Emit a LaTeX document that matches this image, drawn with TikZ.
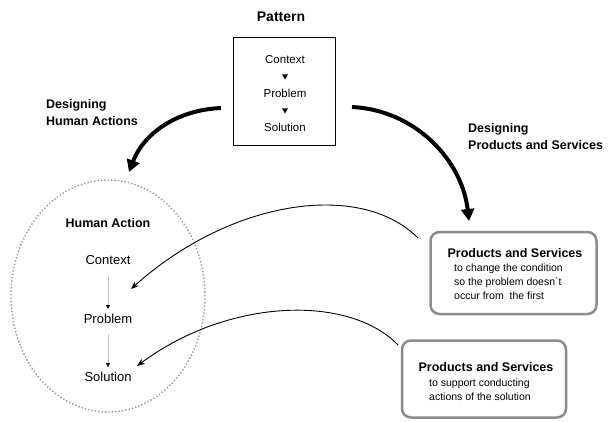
\documentclass[tikz,border=0pt]{standalone}
\usepackage{fontspec}
\setmainfont{Liberation Sans}
\usetikzlibrary{arrows.meta,shapes.geometric}
\begin{document}
\begin{tikzpicture}[x=1pt,y=-1pt,
  bigtitle/.style={font=\bfseries\fontsize{14}{16}\selectfont, inner sep=0pt},
  title/.style={font=\bfseries\fontsize{12.5}{14.5}\selectfont, inner sep=0pt},
  labeltxt/.style={font=\bfseries\fontsize{12.5}{17}\selectfont, inner sep=0pt, align=left},
  smalltxt/.style={font=\fontsize{11.5}{13}\selectfont, inner sep=0pt},
  hatxt/.style={font=\fontsize{13}{15}\selectfont, inner sep=0pt},
  bodytxt/.style={font=\fontsize{10.5}{14}\selectfont, inner sep=0pt, align=left},
  tri/.style={regular polygon, regular polygon sides=3, shape border rotate=180, fill=black, inner sep=0pt, minimum size=7pt},
  patbox/.style={draw=black, line width=0.8pt, minimum width=102pt, minimum height=108pt},
  psbox/.style={draw=black!45, line width=2.5pt, rounded corners=9pt},
  bigarrow/.style={line width=4pt, -{Triangle[length=12pt,width=13pt]}},
  thinarrow/.style={line width=0.9pt, -{Stealth[length=8pt,width=6pt]}},
  grayarrow/.style={draw=black!25, line width=0.8pt, -{Triangle[length=4pt,width=4pt,color=black]}}
]
\useasboundingbox (0,0) rectangle (609,421);

% Pattern
\node[bigtitle] (pattitle) at (281,17) {Pattern};
\node[patbox] (patbox) at (284,91) {};
\node[smalltxt] (pctx) at (285,60) {Context};
\node[tri] (ptri1) at (285,76) {};
\node[smalltxt] (pprob) at (285,93) {Problem};
\node[tri] (ptri2) at (285,110) {};
\node[smalltxt] (psol) at (285,127) {Solution};

% Labels
\node[labeltxt, anchor=west] (lblha) at (46,113) {Designing\\Human Actions};
\node[labeltxt, anchor=west] (lblps) at (468,137) {Designing\\Products and Services};

% Thick arrows
\coordinate (la) at (221,108);
\coordinate (lt) at (129,172);
\coordinate (ra) at (352,107);
\coordinate (rt) at (469,221);
\draw[bigarrow] (la) .. controls (175,110) and (143,135) .. (lt);
\draw[bigarrow] (ra) .. controls (415,110) and (462,160) .. (rt);

% Human action ellipse
\node[draw=black!40, dotted, line width=1.4pt, ellipse, minimum width=194pt, minimum height=232pt] (hae) at (108,296) {};
\node[title] (hatitle) at (108,223) {Human Action};
\node[hatxt] (hactx) at (108,260) {Context};
\node[hatxt] (haprob) at (108,319) {Problem};
\node[hatxt] (hasol) at (108,377) {Solution};
\draw[grayarrow, shorten <=10pt, shorten >=5pt] (hactx.south) -- (haprob.north);
\draw[grayarrow, shorten <=10pt, shorten >=5pt] (haprob.south) -- (hasol.north);

% Products and Services box 1
\node[psbox, minimum width=166pt, minimum height=82pt] (ps1) at (513.5,273) {};
\node[title] (ps1title) at (515,253) {Products and Services};
\node[bodytxt, anchor=west] (ps1body) at (454,282) {to change the condition\\so the problem doesn\textasciigrave t\\occur from\ \ the first};

% Products and Services box 2
\node[psbox, minimum width=164pt, minimum height=77pt] (ps2) at (484,379) {};
\node[title] (ps2title) at (486,367) {Products and Services};
\node[bodytxt, anchor=west] (ps2body) at (429,390) {to support conducting\\actions of the solution};

% Thin arrows
\coordinate (a1s) at (418,238);
\coordinate (a1t) at (131,289);
\coordinate (a2s) at (398,345);
\coordinate (a2t) at (137,366);
\draw[thinarrow] (a1s) .. controls (360,180) and (230,200) .. (a1t);
\draw[thinarrow] (a2s) .. controls (350,295) and (230,297) .. (a2t);
\end{tikzpicture}
\end{document}
